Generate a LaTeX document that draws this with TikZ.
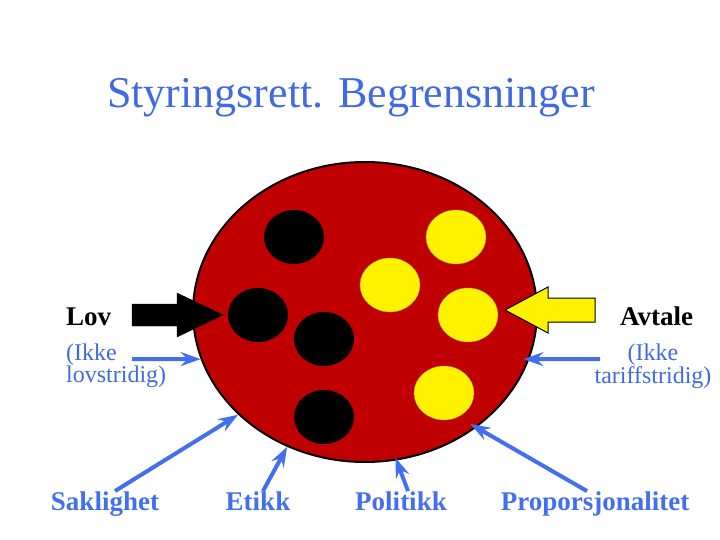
\documentclass[tikz,border=0pt]{standalone}
\usepackage{fontspec}
\setmainfont{Liberation Serif}
\usetikzlibrary{positioning,shapes.geometric,arrows.meta}
\definecolor{boardred}{RGB}{192,0,0}
\definecolor{titleblue}{RGB}{65,105,225}
\definecolor{arrowblue}{RGB}{66,110,240}

\begin{document}
\begin{tikzpicture}[
    x=1pt,y=-1pt,
    spot/.style={ellipse,minimum width=60pt,minimum height=54pt,inner sep=0pt},
    blackspot/.style={spot,fill=black},
    yellowspot/.style={spot,fill=yellow,draw=yellow!60!black,thin},
    pointer/.style={draw=arrowblue,line width=4pt,
      -{Stealth[length=20pt,width=14pt,inset=7pt]}},
    topic/.style={font=\fontsize{27}{30}\selectfont\bfseries,
      text=arrowblue,anchor=base,inner sep=0pt},
    side/.style={font=\fontsize{27}{30}\selectfont\bfseries,
      anchor=base west,inner sep=0pt},
    note/.style={font=\fontsize{24}{22}\selectfont,text=titleblue,
      inner sep=0pt}
  ]
    \useasboundingbox (0,0) rectangle (720,540);

    \node[anchor=base west,inner sep=0pt,text=titleblue,
      font=\fontsize{44}{48}\selectfont] (title) at (107,108)
      {Styringsrett. Begrensninger};

    % the board with its spots
    \node[ellipse,draw,line width=2pt,fill=boardred,
      minimum width=344pt,minimum height=300pt] (board) at (365,312) {};

    \foreach \n/\x/\y in {spota/294/237,lovspot/258/315,
                          spotb/324/339,spotc/324/417}
      \node[blackspot] (\n) at (\x,\y) {};
    \foreach \n/\x/\y in {spotd/456/237,spote/390/285,
                          avtalespot/468/315,spotf/444/393}
      \node[yellowspot] (\n) at (\x,\y) {};

    % big arrows
    \draw[fill=black] (132,304) -- (177,304) -- (177,293) -- (223,315)
      -- (177,337) -- (177,326) -- (132,326) -- cycle;
    \draw[fill=yellow,line width=1pt] (595,298) -- (548,298) -- (548,287)
      -- (505,310) -- (548,333) -- (548,322) -- (595,322) -- cycle;

    \node[side] (lov) at (66,325) {Lov};
    \node[side] (avtale) at (620,325) {Avtale};

    \node[note,anchor=north west,align=left] (lovnote) at (66,344)
      {(Ikke\\lovstridig)};
    \node[note,anchor=north,align=center] (tariffnote) at (653,344)
      {(Ikke\\tariffstridig)};

    \coordinate (lovtail) at (132,359);
    \coordinate (tarifftail) at (600,359);
    \draw[pointer] (lovtail) -- (board.196);
    \draw[pointer,shorten >=-6pt] (tarifftail) -- (board.344);

    % bottom labels
    \node[topic] (saklighet) at (105,510) {Saklighet};
    \node[topic] (etikk) at (258,510) {Etikk};
    \node[topic] (politikk) at (401,510) {Politikk};
    \node[topic] (proporsjonalitet) at (595,510) {Proporsjonalitet};

    \draw[pointer] ([xshift=10pt]saklighet.north) -- (board.219);
    \draw[pointer] ([xshift=5pt]etikk.north) -- (board.240);
    \draw[pointer,shorten >=-3pt] ([xshift=7pt]politikk.north) -- (board.282);
    \draw[pointer,shorten >=-7pt] ([xshift=-8pt]proporsjonalitet.north)
      -- (board.314);
  \end{tikzpicture}
\end{document}
